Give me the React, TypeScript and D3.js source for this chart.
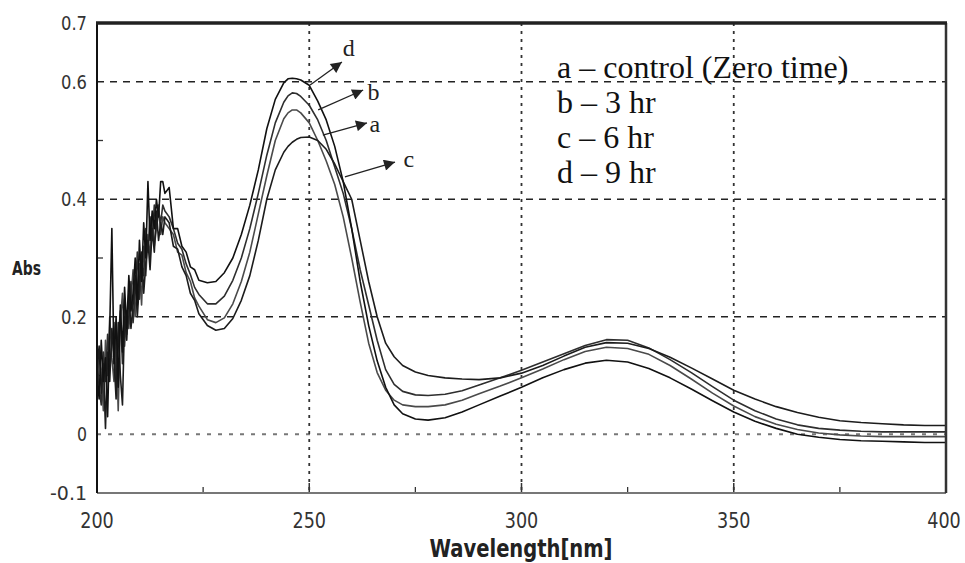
import React from 'react';
import * as d3 from 'd3';

// ---------- data ----------
const wavelengths = [
  200, 200.5, 201, 201.5, 202, 202.5, 203, 203.5, 204, 204.5, 205, 205.5, 206, 206.5, 207, 207.5,
  208, 208.5, 209, 209.5, 210, 210.5, 211, 211.5, 212, 212.5, 213, 213.5, 214, 214.5, 215, 215.5, 216,
  217, 218, 219, 220, 221, 222, 223, 224,
  226, 228, 230, 232, 234, 236, 238, 240, 242, 244, 245, 246, 247, 248, 250, 252, 254, 256, 258, 260,
  262, 264, 266, 268, 270, 272, 275, 278, 282, 286, 290, 295, 300, 305, 310, 315, 320, 325, 330, 335,
  340, 345, 350, 355, 360, 365, 370, 375, 380, 385, 390, 395, 400,
];

// a – control (zero time)
const seriesA = [
  0.08, 0.14, 0.11, 0.04, 0.16, 0.10, 0.20, 0.13, 0.09, 0.17, 0.04, 0.19, 0.24, 0.15, 0.21, 0.18,
  0.23, 0.28, 0.20, 0.25, 0.29, 0.22, 0.32, 0.27, 0.34, 0.30, 0.37, 0.32, 0.35, 0.39, 0.34, 0.37, 0.36,
  0.35, 0.34, 0.31, 0.305, 0.275, 0.26, 0.232, 0.218,
  0.195, 0.19, 0.198, 0.222, 0.26, 0.31, 0.375, 0.44, 0.5, 0.537, 0.547, 0.552, 0.552, 0.547, 0.53, 0.5,
  0.465, 0.425, 0.37, 0.3, 0.225, 0.155, 0.105, 0.075, 0.058, 0.05, 0.047, 0.047, 0.05, 0.058, 0.069,
  0.082, 0.096, 0.111, 0.127, 0.141, 0.148, 0.146, 0.136, 0.117, 0.094, 0.07, 0.048, 0.03, 0.017, 0.008,
  0.002, -0.001, -0.003, -0.004, -0.004, -0.004, -0.004,
];

// b – 3 hr
const seriesB = [
  0.13, 0.08, 0.05, 0.14, 0.09, 0.17, 0.11, 0.15, 0.19, 0.07, 0.16, 0.21, 0.12, 0.23, 0.17, 0.20,
  0.26, 0.19, 0.24, 0.31, 0.23, 0.29, 0.27, 0.35, 0.31, 0.37, 0.33, 0.39, 0.35, 0.38, 0.36, 0.39, 0.38,
  0.37, 0.35, 0.325, 0.315, 0.29, 0.272, 0.25, 0.238,
  0.222, 0.222, 0.235, 0.262, 0.3, 0.35, 0.41, 0.475, 0.53, 0.565, 0.576, 0.581, 0.58, 0.575, 0.56, 0.535,
  0.5, 0.455, 0.41, 0.35, 0.28, 0.22, 0.16, 0.11, 0.085, 0.073, 0.067, 0.066, 0.068, 0.074, 0.084,
  0.096, 0.109, 0.123, 0.137, 0.151, 0.161, 0.16, 0.147, 0.127, 0.105, 0.081, 0.058, 0.04, 0.026, 0.016,
  0.01, 0.007, 0.005, 0.004, 0.004, 0.004, 0.004,
];

// c – 6 hr
const seriesC = [
  0.11, 0.15, 0.07, 0.12, 0.01, 0.14, 0.09, 0.18, 0.13, 0.06, 0.19, 0.10, 0.05, 0.20, 0.16, 0.24,
  0.18, 0.22, 0.27, 0.20, 0.26, 0.31, 0.24, 0.29, 0.33, 0.28, 0.35, 0.31, 0.38, 0.33, 0.36, 0.34, 0.37,
  0.36, 0.32, 0.315, 0.285, 0.27, 0.24, 0.228, 0.205,
  0.185, 0.177, 0.18, 0.197, 0.228, 0.27, 0.33, 0.4, 0.45, 0.48, 0.49, 0.497, 0.502, 0.505, 0.506, 0.5,
  0.485, 0.46, 0.43, 0.4, 0.33, 0.26, 0.2, 0.155, 0.132, 0.117, 0.106, 0.1, 0.096, 0.094, 0.093,
  0.096, 0.104, 0.117, 0.133, 0.148, 0.156, 0.155, 0.146, 0.131, 0.113, 0.094, 0.075, 0.06, 0.047, 0.037,
  0.029, 0.023, 0.02, 0.018, 0.016, 0.015, 0.015,
];

// d – 9 hr
const seriesD = [
  0.10, 0.06, 0.16, 0.09, 0.13, 0.03, 0.18, 0.35, 0.12, 0.20, 0.08, 0.22, 0.14, 0.25, 0.18, 0.27,
  0.21, 0.24, 0.30, 0.22, 0.33, 0.26, 0.36, 0.30, 0.43, 0.33, 0.38, 0.35, 0.40, 0.37, 0.43, 0.43, 0.41,
  0.42, 0.35, 0.35, 0.32, 0.31, 0.285, 0.28, 0.262,
  0.258, 0.26, 0.275, 0.3, 0.34, 0.39, 0.45, 0.52, 0.57, 0.598, 0.605, 0.606, 0.605, 0.603, 0.594, 0.567,
  0.535, 0.49, 0.43, 0.35, 0.26, 0.185, 0.125, 0.08, 0.05, 0.035, 0.026, 0.024, 0.028, 0.038, 0.05,
  0.065, 0.08, 0.096, 0.11, 0.121, 0.126, 0.123, 0.112, 0.096, 0.077, 0.057, 0.038, 0.022, 0.01, 0.0,
  -0.005, -0.009, -0.011, -0.012, -0.013, -0.014, -0.014,
];

const seriesList = [seriesA, seriesB, seriesC, seriesD];
const seriesColors = ['#4a4a4a', '#2e2e2e', '#1c1c1c', '#111111'];

const legendLabels = ['a – control (Zero time)', 'b – 3 hr', 'c – 6 hr', 'd – 9 hr'];

const xTickValues = [200, 250, 300, 350, 400];
const xTickLabels = ['200', '250', '300', '350', '400'];
const yTickValues = [-0.1, 0, 0.2, 0.4, 0.6, 0.7];
const yTickLabels = ['-0.1', '0', '0.2', '0.4', '0.6', '0.7'];
const yGridValues = [0.2, 0.4, 0.6];
const xGridValues = [250, 300, 350];
const xMinorTicks = [225, 275, 325, 375];
const yMinorTicks = [0.1, 0.3, 0.5];

// annotation arrows (data coordinates): label, start, tip, label anchor
const annoLabels = ['d', 'b', 'a', 'c'];
const annoStart = [[250.2, 0.5945], [252.1, 0.552], [253.2, 0.509], [258.4, 0.438]];
const annoTip = [[257.7, 0.6336], [262.7, 0.586], [263.6, 0.53], [270.2, 0.4634]];
const annoText = [[257.9, 0.644], [263.7, 0.569], [264.2, 0.5145], [272.2, 0.455]];

// ---------- chart ----------
const W = 965;
const H = 563;
const X0 = 97, X1 = 946, Y0 = 493, Y1 = 23;

export default function App() {
  const x = d3.scaleLinear().domain([200, 400]).range([X0, X1]);
  const y = d3.scaleLinear().domain([-0.1, 0.7]).range([Y0, Y1]);
  const line = d3
    .line<number>()
    .x((_, i) => x(wavelengths[i]))
    .y((v) => y(v))
    .curve(d3.curveLinear);

  const tickFont = "'DejaVu Sans', sans-serif";
  const serif = "'Liberation Serif', 'Times New Roman', serif";
  const yLabelWidth = (s: string) => (s.length === 1 ? 10 : s.length === 3 ? 26 : 37);

  return (
    <svg
      width={W}
      height={H}
      viewBox={`0 0 ${W} ${H}`}
      style={{ position: 'absolute', left: 0, top: 0, background: '#fff' }}
    >
      <defs>
        <marker
          id="arrowHead"
          viewBox="0 0 10 10"
          refX="10"
          refY="5"
          markerWidth="15"
          markerHeight="11"
          markerUnits="userSpaceOnUse"
          orient="auto"
        >
          <path d="M0,0 L10,5 L0,10 Z" fill="#222" />
        </marker>
      </defs>
      <rect x={0} y={0} width={W} height={H} fill="#fff" />

      {/* horizontal dashed grid */}
      {yGridValues.map((v) => (
        <line
          key={'gy' + v}
          x1={X0}
          x2={X1}
          y1={y(v)}
          y2={y(v)}
          stroke="#222"
          strokeWidth={1.6}
          strokeDasharray="7 6"
        />
      ))}
      {/* zero line */}
      <line x1={X0} x2={X1} y1={y(0)} y2={y(0)} stroke="#777" strokeWidth={2} strokeDasharray="4 7" />

      {/* vertical dotted grid */}
      {xGridValues.map((v) => (
        <g key={'gx' + v}>
          <line x1={x(v)} x2={x(v)} y1={Y1} y2={Y0} stroke="#333" strokeWidth={1.8} strokeDasharray="3 5" />
          <line x1={x(v)} x2={x(v)} y1={Y0} y2={Y0 - 10} stroke="#333" strokeWidth={1.5} />
        </g>
      ))}

      {/* minor ticks */}
      {xMinorTicks.map((v) => (
        <line key={'mx' + v} x1={x(v)} x2={x(v)} y1={Y0} y2={Y0 - 6} stroke="#333" strokeWidth={1.3} />
      ))}
      {yMinorTicks.map((v) => (
        <line key={'my' + v} x1={X0} x2={X0 + 6} y1={y(v)} y2={y(v)} stroke="#333" strokeWidth={1.3} />
      ))}

      {/* series */}
      {seriesList.map((s, i) => (
        <path
          key={'s' + i}
          d={line(s) || ''}
          fill="none"
          stroke={seriesColors[i]}
          strokeWidth={1.6}
          strokeLinejoin="round"
        />
      ))}

      {/* frame */}
      <line x1={X0} x2={X1} y1={Y0} y2={Y0} stroke="#777" strokeWidth={2.2} />
      <line x1={X0} x2={X0} y1={Y1} y2={Y0} stroke="#111" strokeWidth={2} />
      <line x1={X1} x2={X1} y1={Y1} y2={Y0} stroke="#333" strokeWidth={2.5} />
      <line x1={X0 - 1} x2={X1 + 1} y1={Y1} y2={Y1} stroke="#222" strokeWidth={3.5} />

      {/* y tick labels */}
      {yTickValues.map((v, i) => (
        <text
          key={'yt' + v}
          x={X0 - 10}
          y={y(v)}
          dy="0.36em"
          textAnchor="end"
          fontFamily={tickFont}
          fontSize={19}
          fill="#333"
          textLength={yLabelWidth(yTickLabels[i])}
          lengthAdjust="spacingAndGlyphs"
        >
          {yTickLabels[i]}
        </text>
      ))}

      {/* x tick labels (condensed via horizontal scale) */}
      {xTickValues.map((v, i) => (
        <text
          key={'xt' + v}
          transform={`translate(${x(v) - (i === xTickValues.length - 1 ? 2 : 0)},${Y0 + 35}) scale(0.8,1)`}
          textAnchor="middle"
          fontFamily={tickFont}
          fontSize={22}
          fill="#333"
        >
          {xTickLabels[i]}
        </text>
      ))}

      {/* axis titles */}
      <text
        x={12}
        y={275}
        fontFamily={tickFont}
        fontSize={19}
        fontWeight="bold"
        fill="#222"
        textLength={29}
        lengthAdjust="spacingAndGlyphs"
      >
        Abs
      </text>
      <text
        x={x(300) - 92}
        y={557}
        fontFamily={tickFont}
        fontSize={24}
        fontWeight="bold"
        fill="#222"
        textLength={183}
        lengthAdjust="spacingAndGlyphs"
      >
        Wavelength[nm]
      </text>

      {/* annotation arrows */}
      {annoLabels.map((lab, i) => (
        <g key={'an' + lab}>
          <line
            x1={x(annoStart[i][0])}
            y1={y(annoStart[i][1])}
            x2={x(annoTip[i][0])}
            y2={y(annoTip[i][1])}
            stroke="#222"
            strokeWidth={1.3}
            markerEnd="url(#arrowHead)"
          />
          <text x={x(annoText[i][0])} y={y(annoText[i][1])} fontFamily={serif} fontSize={24} fill="#222">
            {lab}
          </text>
        </g>
      ))}

      {/* legend text */}
      {legendLabels.map((t, i) => (
        <text key={'lg' + i} x={557} y={78 + i * 35} fontFamily={serif} fontSize={32} fill="#111">
          {t}
        </text>
      ))}
    </svg>
  );
}
